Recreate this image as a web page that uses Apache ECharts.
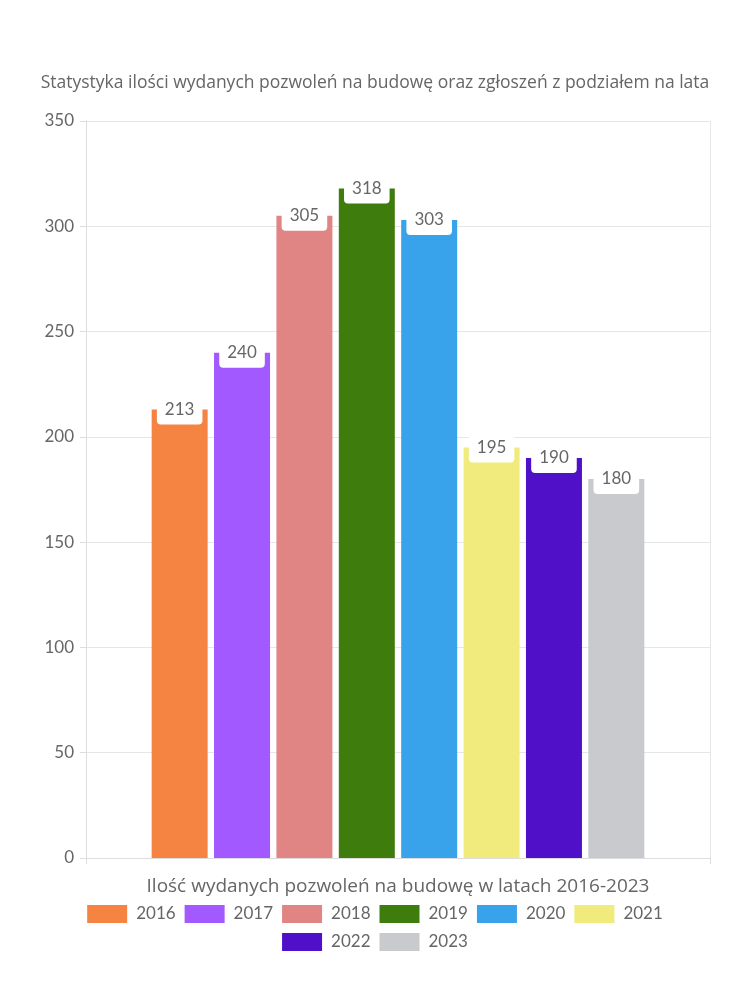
<!DOCTYPE html>
<html><head><meta charset="utf-8">
<script src="https://cdn.jsdelivr.net/npm/echarts@6/dist/echarts.min.js"></script>
<style>html,body{margin:0;padding:0;background:#fff}#c{width:750px;height:1000px}</style>
</head><body><div id="c"></div>
<script>
const years = ['2016','2017','2018','2019','2020','2021','2022','2023'];
const values = [213, 240, 305, 318, 303, 195, 190, 180];
const colors = ['#F58442','#A259FF','#E08484','#3E7C0E','#38A2EA','#F0EB7C','#5010C7','#C9CACE'];
const yTicks = [0, 50, 100, 150, 200, 250, 300, 350];
const titleText = 'Statystyka ilości wydanych pozwoleń na budowę oraz zgłoszeń z podziałem na lata';
const xName = 'Ilość wydanych pozwoleń na budowę w latach 2016-2023';

const FONT = 'Lato';
const WFONT = 'Open Sans';
const chart = echarts.init(document.getElementById('c'), null, {renderer:'canvas'});
const series = years.map((y, i) => ({
  name: y, type: 'bar', data: [values[i]],
  itemStyle: {color: colors[i]},
  barWidth: 56, barGap: '11.4%',
  label: {
    show: true, position: 'insideTop', distance: 0, offset: [0, -13],
    color: '#666', fontSize: 17, fontFamily: FONT, lineHeight: 18,
    backgroundColor: '#fff', borderRadius: [0,0,4,4], padding: [4,8,6,8]
  }
}));
const legendBase = {
  orient: 'horizontal', left: 'center', itemWidth: 40, itemHeight: 18, itemGap: 9,
  icon: 'rect',
  textStyle: {color: '#666', fontSize: 17, fontFamily: FONT, padding: [0,0,0,4]}
};
chart.setOption({
  backgroundColor: '#fff',
  animation: false,
  title: {text: titleText, left: 'center', top: 69,
    textStyle: {color: '#666', fontSize: 17.5, fontWeight: 'normal', fontFamily: WFONT}},
  grid: {left: 86, right: 40, top: 121, bottom: 142},
  legend: [
    Object.assign({}, legendBase, {top: 900, data: years.slice(0, 6)}),
    Object.assign({}, legendBase, {top: 928, data: years.slice(6)})
  ],
  xAxis: {
    type: 'category', data: [''],
    name: xName, nameLocation: 'middle', nameGap: 19,
    nameTextStyle: {color: '#666', fontSize: 19, fontFamily: WFONT},
    axisLine: {lineStyle: {color: '#ddd'}},
    axisTick: {show: true, length: 6, lineStyle: {color: '#ddd'}},
    axisLabel: {show: false},
    splitLine: {show: true, showMinLine: true, showMaxLine: true, lineStyle: {color: '#e6e6e6'}}
  },
  yAxis: {
    type: 'value', min: yTicks[0], max: yTicks[yTicks.length-1], interval: yTicks[1]-yTicks[0],
    axisLine: {show: true, lineStyle: {color: '#ddd'}},
    axisTick: {show: true, length: 6, lineStyle: {color: '#ddd'}},
    axisLabel: {color: '#666', fontSize: 17, fontFamily: FONT, margin: 12},
    splitLine: {lineStyle: {color: '#e6e6e6'}}
  },
  series: series
});
</script></body></html>
